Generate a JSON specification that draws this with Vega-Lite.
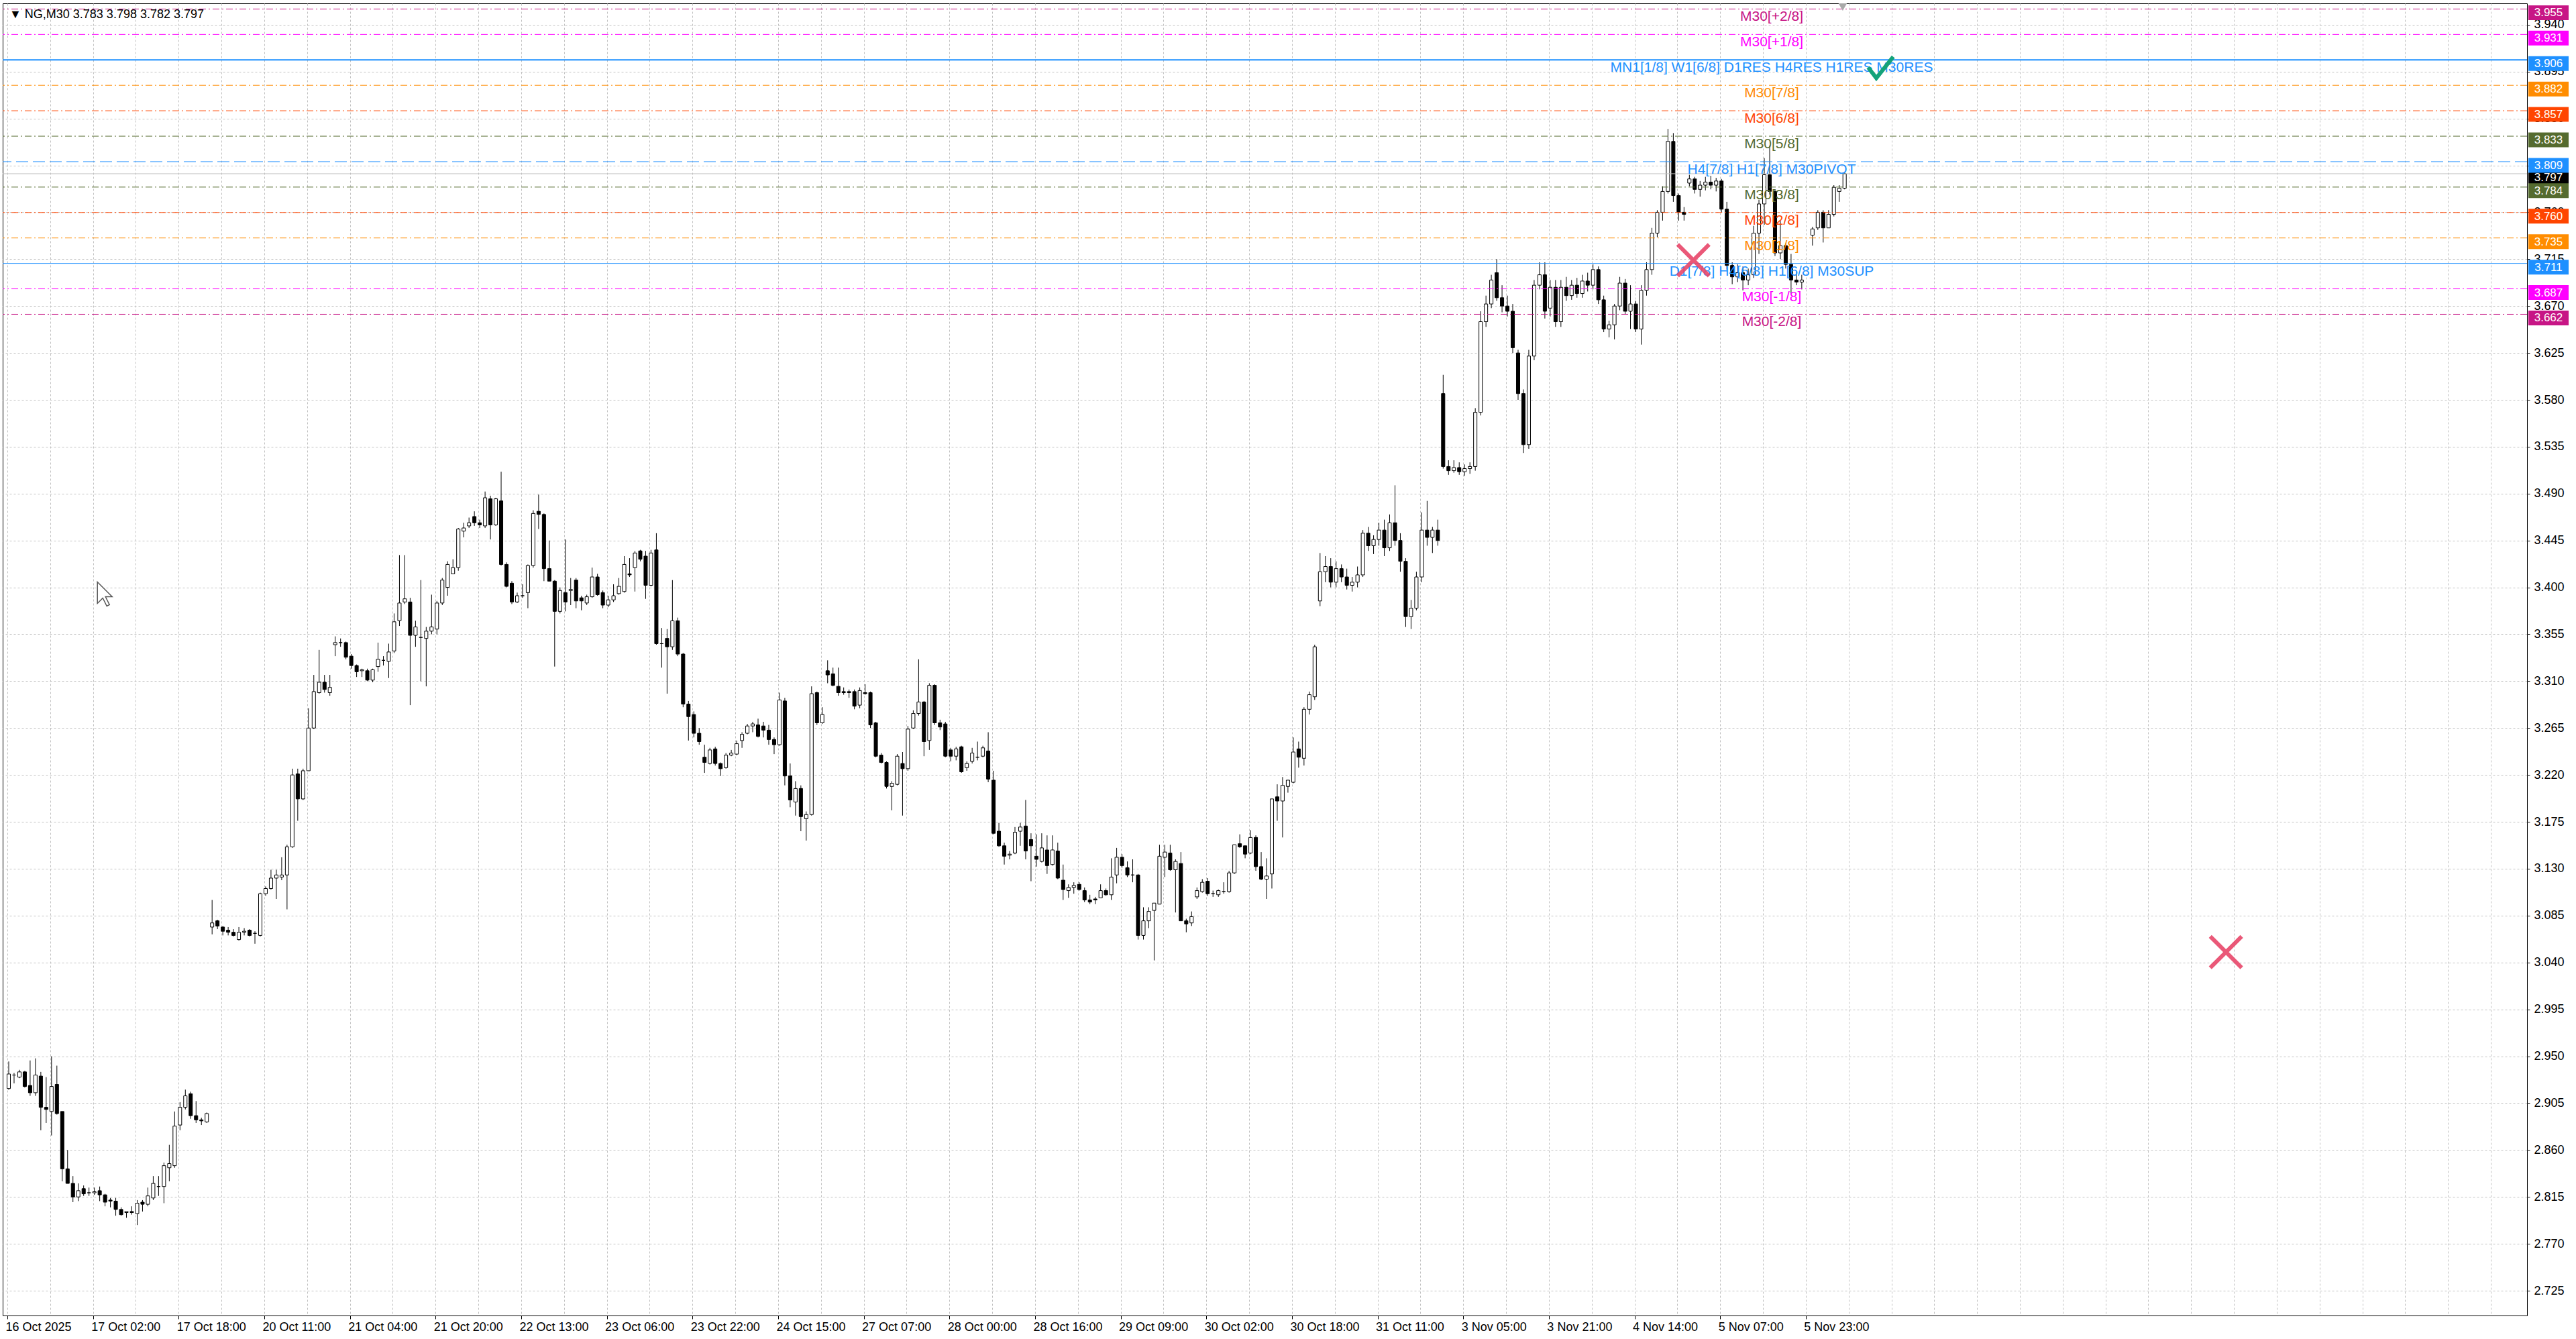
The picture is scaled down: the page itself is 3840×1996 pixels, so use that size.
{
"$schema": "https://vega.github.io/schema/vega-lite/v6.json",
"width": 3763, "height": 1956,
"padding": {"left": 3, "top": 4, "right": 0, "bottom": 0},
"autosize": {"type": "pad"},
"background": "#ffffff",
"config": {"view": {"stroke": "#000000", "strokeWidth": 1}, "font": "Liberation Sans"},
"resolve": {"axis": {"x": "independent", "y": "independent"}},
"datasets": {
"candles": [
{"i":0,"o":2.919,"h":2.945,"l":2.918,"c":2.933},{"i":2,"o":2.932,"h":2.934,"l":2.924,"c":2.932},{"i":4,"o":2.930,"h":2.937,"l":2.929,"c":2.935},{"i":6,"o":2.935,"h":2.936,"l":2.920,"c":2.921},{"i":8,"o":2.922,"h":2.946,"l":2.912,"c":2.915},{"i":10,"o":2.915,"h":2.948,"l":2.912,"c":2.932},{"i":12,"o":2.931,"h":2.935,"l":2.879,"c":2.901},{"i":14,"o":2.901,"h":2.930,"l":2.886,"c":2.899},{"i":16,"o":2.897,"h":2.950,"l":2.874,"c":2.921},{"i":18,"o":2.923,"h":2.941,"l":2.894,"c":2.895},
{"i":20,"o":2.897,"h":2.897,"l":2.830,"c":2.842},{"i":22,"o":2.842,"h":2.860,"l":2.828,"c":2.828},{"i":24,"o":2.828,"h":2.835,"l":2.810,"c":2.815},{"i":26,"o":2.815,"h":2.828,"l":2.811,"c":2.821},{"i":28,"o":2.823,"h":2.826,"l":2.816,"c":2.818},{"i":30,"o":2.819,"h":2.824,"l":2.816,"c":2.819},{"i":32,"o":2.819,"h":2.824,"l":2.817,"c":2.820},{"i":34,"o":2.821,"h":2.825,"l":2.811,"c":2.817},{"i":36,"o":2.817,"h":2.818,"l":2.806,"c":2.810},{"i":38,"o":2.812,"h":2.814,"l":2.805,"c":2.811},
{"i":40,"o":2.811,"h":2.814,"l":2.797,"c":2.803},{"i":42,"o":2.803,"h":2.805,"l":2.797,"c":2.798},{"i":44,"o":2.800,"h":2.801,"l":2.795,"c":2.801},{"i":46,"o":2.801,"h":2.806,"l":2.798,"c":2.800},{"i":48,"o":2.799,"h":2.812,"l":2.788,"c":2.809},{"i":50,"o":2.810,"h":2.812,"l":2.801,"c":2.808},{"i":52,"o":2.808,"h":2.824,"l":2.806,"c":2.816},{"i":54,"o":2.814,"h":2.835,"l":2.812,"c":2.828},{"i":56,"o":2.825,"h":2.835,"l":2.816,"c":2.825},{"i":58,"o":2.825,"h":2.848,"l":2.809,"c":2.845},
{"i":60,"o":2.843,"h":2.865,"l":2.830,"c":2.847},{"i":62,"o":2.845,"h":2.897,"l":2.843,"c":2.883},{"i":64,"o":2.884,"h":2.906,"l":2.879,"c":2.901},{"i":66,"o":2.901,"h":2.918,"l":2.899,"c":2.912},{"i":68,"o":2.914,"h":2.916,"l":2.890,"c":2.893},{"i":70,"o":2.893,"h":2.907,"l":2.886,"c":2.889},{"i":72,"o":2.889,"h":2.891,"l":2.884,"c":2.888},{"i":74,"o":2.887,"h":2.896,"l":2.886,"c":2.895},
{"i":76,"o":3.074,"h":3.100,"l":3.067,"c":3.078},{"i":78,"o":3.080,"h":3.081,"l":3.072,"c":3.075},{"i":80,"o":3.074,"h":3.075,"l":3.066,"c":3.070},{"i":82,"o":3.071,"h":3.074,"l":3.066,"c":3.069},{"i":84,"o":3.069,"h":3.072,"l":3.065,"c":3.066},{"i":86,"o":3.062,"h":3.074,"l":3.061,"c":3.069},{"i":88,"o":3.069,"h":3.073,"l":3.066,"c":3.070},{"i":90,"o":3.071,"h":3.072,"l":3.065,"c":3.066},{"i":92,"o":3.068,"h":3.070,"l":3.058,"c":3.068},{"i":94,"o":3.066,"h":3.107,"l":3.065,"c":3.106},
{"i":96,"o":3.106,"h":3.113,"l":3.104,"c":3.111},{"i":98,"o":3.111,"h":3.129,"l":3.110,"c":3.121},{"i":100,"o":3.121,"h":3.129,"l":3.101,"c":3.124},{"i":102,"o":3.122,"h":3.141,"l":3.119,"c":3.124},{"i":104,"o":3.124,"h":3.153,"l":3.091,"c":3.151},{"i":106,"o":3.151,"h":3.226,"l":3.150,"c":3.220},{"i":108,"o":3.221,"h":3.226,"l":3.176,"c":3.197},{"i":110,"o":3.197,"h":3.226,"l":3.196,"c":3.224},{"i":112,"o":3.224,"h":3.284,"l":3.224,"c":3.265},{"i":114,"o":3.265,"h":3.316,"l":3.264,"c":3.300},
{"i":116,"o":3.299,"h":3.340,"l":3.298,"c":3.309},{"i":118,"o":3.309,"h":3.316,"l":3.299,"c":3.302},{"i":120,"o":3.299,"h":3.316,"l":3.296,"c":3.304},{"i":122,"o":3.345,"h":3.353,"l":3.334,"c":3.347},{"i":124,"o":3.347,"h":3.351,"l":3.343,"c":3.347},{"i":126,"o":3.347,"h":3.348,"l":3.331,"c":3.333},{"i":128,"o":3.334,"h":3.336,"l":3.322,"c":3.325},{"i":130,"o":3.325,"h":3.326,"l":3.314,"c":3.319},{"i":132,"o":3.320,"h":3.322,"l":3.314,"c":3.321},{"i":134,"o":3.320,"h":3.322,"l":3.310,"c":3.311},
{"i":136,"o":3.311,"h":3.322,"l":3.309,"c":3.321},{"i":138,"o":3.324,"h":3.347,"l":3.319,"c":3.331},{"i":140,"o":3.330,"h":3.334,"l":3.325,"c":3.330},{"i":142,"o":3.329,"h":3.346,"l":3.313,"c":3.338},{"i":144,"o":3.339,"h":3.375,"l":3.337,"c":3.367},{"i":146,"o":3.368,"h":3.431,"l":3.363,"c":3.385},{"i":148,"o":3.386,"h":3.431,"l":3.384,"c":3.389},{"i":150,"o":3.386,"h":3.390,"l":3.287,"c":3.354},{"i":152,"o":3.354,"h":3.368,"l":3.343,"c":3.362},{"i":154,"o":3.352,"h":3.407,"l":3.310,"c":3.352},
{"i":156,"o":3.351,"h":3.362,"l":3.305,"c":3.358},{"i":158,"o":3.358,"h":3.393,"l":3.355,"c":3.362},{"i":160,"o":3.360,"h":3.387,"l":3.355,"c":3.385},{"i":162,"o":3.385,"h":3.409,"l":3.383,"c":3.407},{"i":164,"o":3.400,"h":3.425,"l":3.392,"c":3.422},{"i":166,"o":3.413,"h":3.427,"l":3.413,"c":3.419},{"i":168,"o":3.419,"h":3.457,"l":3.416,"c":3.456},{"i":170,"o":3.454,"h":3.462,"l":3.448,"c":3.457},{"i":172,"o":3.459,"h":3.467,"l":3.457,"c":3.462},{"i":174,"o":3.468,"h":3.473,"l":3.459,"c":3.462},
{"i":176,"o":3.462,"h":3.465,"l":3.457,"c":3.460},{"i":178,"o":3.459,"h":3.492,"l":3.457,"c":3.486},{"i":180,"o":3.485,"h":3.488,"l":3.446,"c":3.460},{"i":182,"o":3.460,"h":3.486,"l":3.459,"c":3.485},{"i":184,"o":3.483,"h":3.511,"l":3.421,"c":3.422},{"i":186,"o":3.422,"h":3.424,"l":3.400,"c":3.401},{"i":188,"o":3.404,"h":3.406,"l":3.384,"c":3.386},{"i":190,"o":3.386,"h":3.395,"l":3.385,"c":3.392},{"i":192,"o":3.392,"h":3.403,"l":3.390,"c":3.392},{"i":194,"o":3.395,"h":3.422,"l":3.380,"c":3.421},
{"i":196,"o":3.421,"h":3.474,"l":3.419,"c":3.471},{"i":198,"o":3.473,"h":3.489,"l":3.456,"c":3.470},{"i":200,"o":3.470,"h":3.471,"l":3.406,"c":3.418},{"i":202,"o":3.418,"h":3.445,"l":3.406,"c":3.406},{"i":204,"o":3.406,"h":3.407,"l":3.324,"c":3.377},{"i":206,"o":3.377,"h":3.400,"l":3.375,"c":3.397},{"i":208,"o":3.395,"h":3.446,"l":3.377,"c":3.386},{"i":210,"o":3.397,"h":3.409,"l":3.383,"c":3.398},{"i":212,"o":3.407,"h":3.409,"l":3.380,"c":3.387},{"i":214,"o":3.390,"h":3.392,"l":3.378,"c":3.387},
{"i":216,"o":3.385,"h":3.393,"l":3.383,"c":3.391},{"i":218,"o":3.391,"h":3.419,"l":3.390,"c":3.410},{"i":220,"o":3.410,"h":3.413,"l":3.392,"c":3.393},{"i":222,"o":3.395,"h":3.397,"l":3.380,"c":3.383},{"i":224,"o":3.383,"h":3.392,"l":3.381,"c":3.388},{"i":226,"o":3.388,"h":3.403,"l":3.386,"c":3.392},{"i":228,"o":3.394,"h":3.409,"l":3.393,"c":3.401},{"i":230,"o":3.396,"h":3.430,"l":3.395,"c":3.422},{"i":232,"o":3.413,"h":3.428,"l":3.410,"c":3.412},{"i":234,"o":3.419,"h":3.435,"l":3.396,"c":3.433},
{"i":236,"o":3.435,"h":3.436,"l":3.425,"c":3.427},{"i":238,"o":3.430,"h":3.435,"l":3.389,"c":3.402},{"i":240,"o":3.402,"h":3.436,"l":3.401,"c":3.433},{"i":242,"o":3.436,"h":3.452,"l":3.345,"c":3.346},{"i":244,"o":3.346,"h":3.361,"l":3.323,"c":3.346},{"i":246,"o":3.351,"h":3.360,"l":3.298,"c":3.343},{"i":248,"o":3.343,"h":3.407,"l":3.340,"c":3.368},{"i":250,"o":3.368,"h":3.371,"l":3.334,"c":3.336},{"i":252,"o":3.336,"h":3.337,"l":3.285,"c":3.288},{"i":254,"o":3.288,"h":3.291,"l":3.253,"c":3.276},
{"i":256,"o":3.278,"h":3.281,"l":3.256,"c":3.260},{"i":258,"o":3.260,"h":3.265,"l":3.249,"c":3.252},{"i":260,"o":3.237,"h":3.249,"l":3.222,"c":3.232},{"i":262,"o":3.231,"h":3.246,"l":3.230,"c":3.244},{"i":264,"o":3.245,"h":3.247,"l":3.229,"c":3.231},{"i":266,"o":3.231,"h":3.232,"l":3.219,"c":3.226},{"i":268,"o":3.227,"h":3.241,"l":3.226,"c":3.239},{"i":270,"o":3.239,"h":3.244,"l":3.238,"c":3.241},{"i":272,"o":3.240,"h":3.253,"l":3.239,"c":3.250},{"i":274,"o":3.253,"h":3.261,"l":3.246,"c":3.259},
{"i":276,"o":3.260,"h":3.269,"l":3.259,"c":3.267},{"i":278,"o":3.267,"h":3.271,"l":3.261,"c":3.269},{"i":280,"o":3.268,"h":3.274,"l":3.256,"c":3.257},{"i":282,"o":3.267,"h":3.271,"l":3.256,"c":3.263},{"i":284,"o":3.263,"h":3.268,"l":3.249,"c":3.254},{"i":286,"o":3.254,"h":3.256,"l":3.240,"c":3.249},{"i":288,"o":3.249,"h":3.299,"l":3.248,"c":3.292},{"i":290,"o":3.291,"h":3.294,"l":3.210,"c":3.219},{"i":292,"o":3.219,"h":3.231,"l":3.189,"c":3.196},{"i":294,"o":3.194,"h":3.214,"l":3.181,"c":3.207},
{"i":296,"o":3.207,"h":3.210,"l":3.166,"c":3.180},{"i":298,"o":3.178,"h":3.185,"l":3.157,"c":3.182},{"i":300,"o":3.182,"h":3.305,"l":3.181,"c":3.298},{"i":302,"o":3.299,"h":3.300,"l":3.268,"c":3.270},{"i":304,"o":3.270,"h":3.285,"l":3.269,"c":3.278},{"i":306,"o":3.320,"h":3.330,"l":3.308,"c":3.316},{"i":308,"o":3.317,"h":3.323,"l":3.305,"c":3.306},{"i":310,"o":3.305,"h":3.323,"l":3.296,"c":3.299},{"i":312,"o":3.300,"h":3.304,"l":3.297,"c":3.299},{"i":314,"o":3.300,"h":3.302,"l":3.294,"c":3.299},
{"i":316,"o":3.300,"h":3.302,"l":3.283,"c":3.286},{"i":318,"o":3.287,"h":3.304,"l":3.284,"c":3.301},{"i":320,"o":3.299,"h":3.307,"l":3.297,"c":3.298},{"i":322,"o":3.299,"h":3.300,"l":3.265,"c":3.268},{"i":324,"o":3.270,"h":3.271,"l":3.237,"c":3.238},{"i":326,"o":3.239,"h":3.241,"l":3.231,"c":3.232},{"i":328,"o":3.232,"h":3.233,"l":3.207,"c":3.209},{"i":330,"o":3.209,"h":3.214,"l":3.186,"c":3.212},{"i":332,"o":3.211,"h":3.240,"l":3.210,"c":3.238},{"i":334,"o":3.231,"h":3.242,"l":3.181,"c":3.226},
{"i":336,"o":3.226,"h":3.267,"l":3.224,"c":3.264},{"i":338,"o":3.265,"h":3.282,"l":3.264,"c":3.279},{"i":340,"o":3.279,"h":3.331,"l":3.277,"c":3.290},{"i":342,"o":3.290,"h":3.291,"l":3.238,"c":3.252},{"i":344,"o":3.253,"h":3.308,"l":3.244,"c":3.306},{"i":346,"o":3.306,"h":3.307,"l":3.268,"c":3.270},{"i":348,"o":3.270,"h":3.273,"l":3.263,"c":3.266},{"i":350,"o":3.269,"h":3.271,"l":3.237,"c":3.238},{"i":352,"o":3.244,"h":3.246,"l":3.233,"c":3.238},{"i":354,"o":3.238,"h":3.247,"l":3.234,"c":3.245},
{"i":356,"o":3.247,"h":3.248,"l":3.222,"c":3.223},{"i":358,"o":3.227,"h":3.233,"l":3.224,"c":3.231},{"i":360,"o":3.233,"h":3.246,"l":3.231,"c":3.241},{"i":362,"o":3.237,"h":3.252,"l":3.234,"c":3.237},{"i":364,"o":3.238,"h":3.248,"l":3.237,"c":3.246},{"i":366,"o":3.243,"h":3.261,"l":3.213,"c":3.216},{"i":368,"o":3.215,"h":3.224,"l":3.163,"c":3.164},{"i":370,"o":3.166,"h":3.174,"l":3.151,"c":3.152},{"i":372,"o":3.152,"h":3.155,"l":3.134,"c":3.142},{"i":374,"o":3.143,"h":3.147,"l":3.139,"c":3.144},
{"i":376,"o":3.145,"h":3.170,"l":3.144,"c":3.165},{"i":378,"o":3.166,"h":3.174,"l":3.152,"c":3.170},{"i":380,"o":3.171,"h":3.196,"l":3.139,"c":3.147},{"i":382,"o":3.158,"h":3.164,"l":3.118,"c":3.152},{"i":384,"o":3.142,"h":3.163,"l":3.132,"c":3.139},{"i":386,"o":3.137,"h":3.164,"l":3.136,"c":3.150},{"i":388,"o":3.148,"h":3.162,"l":3.125,"c":3.133},{"i":390,"o":3.134,"h":3.162,"l":3.133,"c":3.148},{"i":392,"o":3.147,"h":3.155,"l":3.120,"c":3.121},{"i":394,"o":3.119,"h":3.134,"l":3.100,"c":3.110},
{"i":396,"o":3.109,"h":3.115,"l":3.102,"c":3.112},{"i":398,"o":3.112,"h":3.117,"l":3.106,"c":3.114},{"i":400,"o":3.115,"h":3.117,"l":3.109,"c":3.110},{"i":402,"o":3.109,"h":3.112,"l":3.098,"c":3.100},{"i":404,"o":3.100,"h":3.105,"l":3.096,"c":3.098},{"i":406,"o":3.101,"h":3.103,"l":3.096,"c":3.100},{"i":408,"o":3.102,"h":3.115,"l":3.102,"c":3.109},{"i":410,"o":3.109,"h":3.111,"l":3.104,"c":3.105},{"i":412,"o":3.105,"h":3.140,"l":3.100,"c":3.122},{"i":414,"o":3.124,"h":3.150,"l":3.116,"c":3.141},
{"i":416,"o":3.141,"h":3.144,"l":3.131,"c":3.133},{"i":418,"o":3.131,"h":3.137,"l":3.122,"c":3.124},{"i":420,"o":3.124,"h":3.139,"l":3.117,"c":3.124},{"i":422,"o":3.124,"h":3.125,"l":3.062,"c":3.066},{"i":424,"o":3.066,"h":3.093,"l":3.062,"c":3.080},{"i":426,"o":3.080,"h":3.093,"l":3.073,"c":3.089},{"i":428,"o":3.090,"h":3.093,"l":3.042,"c":3.097},{"i":430,"o":3.096,"h":3.153,"l":3.096,"c":3.142},{"i":432,"o":3.141,"h":3.153,"l":3.122,"c":3.146},{"i":434,"o":3.145,"h":3.153,"l":3.128,"c":3.129},
{"i":436,"o":3.129,"h":3.139,"l":3.088,"c":3.137},{"i":438,"o":3.135,"h":3.146,"l":3.080,"c":3.080},{"i":440,"o":3.080,"h":3.082,"l":3.069,"c":3.077},{"i":442,"o":3.078,"h":3.089,"l":3.075,"c":3.084},{"i":444,"o":3.103,"h":3.112,"l":3.101,"c":3.109},{"i":446,"o":3.108,"h":3.120,"l":3.107,"c":3.117},{"i":448,"o":3.118,"h":3.121,"l":3.104,"c":3.106},{"i":450,"o":3.106,"h":3.109,"l":3.103,"c":3.106},{"i":452,"o":3.105,"h":3.110,"l":3.103,"c":3.109},{"i":454,"o":3.108,"h":3.117,"l":3.106,"c":3.108},
{"i":456,"o":3.108,"h":3.128,"l":3.107,"c":3.126},{"i":458,"o":3.126,"h":3.153,"l":3.125,"c":3.153},{"i":460,"o":3.154,"h":3.163,"l":3.150,"c":3.151},{"i":462,"o":3.152,"h":3.152,"l":3.140,"c":3.144},{"i":464,"o":3.145,"h":3.167,"l":3.144,"c":3.160},{"i":466,"o":3.160,"h":3.162,"l":3.128,"c":3.132},{"i":468,"o":3.132,"h":3.146,"l":3.119,"c":3.120},{"i":470,"o":3.120,"h":3.140,"l":3.101,"c":3.123},{"i":472,"o":3.125,"h":3.160,"l":3.111,"c":3.197},{"i":474,"o":3.199,"h":3.211,"l":3.176,"c":3.195},
{"i":476,"o":3.195,"h":3.218,"l":3.160,"c":3.210},{"i":478,"o":3.209,"h":3.215,"l":3.203,"c":3.215},{"i":480,"o":3.213,"h":3.256,"l":3.212,"c":3.242},{"i":482,"o":3.245,"h":3.252,"l":3.227,"c":3.237},{"i":484,"o":3.236,"h":3.285,"l":3.229,"c":3.283},{"i":486,"o":3.283,"h":3.300,"l":3.278,"c":3.297},{"i":488,"o":3.295,"h":3.345,"l":3.292,"c":3.343},{"i":490,"o":3.387,"h":3.433,"l":3.382,"c":3.415},{"i":492,"o":3.415,"h":3.430,"l":3.405,"c":3.420},{"i":494,"o":3.420,"h":3.428,"l":3.400,"c":3.405},
{"i":496,"o":3.405,"h":3.425,"l":3.400,"c":3.418},{"i":498,"o":3.418,"h":3.422,"l":3.405,"c":3.410},{"i":500,"o":3.410,"h":3.418,"l":3.398,"c":3.402},{"i":502,"o":3.402,"h":3.410,"l":3.396,"c":3.405},{"i":504,"o":3.405,"h":3.420,"l":3.400,"c":3.412},{"i":506,"o":3.412,"h":3.455,"l":3.410,"c":3.452},{"i":508,"o":3.452,"h":3.458,"l":3.435,"c":3.440},{"i":510,"o":3.440,"h":3.450,"l":3.432,"c":3.446},{"i":512,"o":3.446,"h":3.462,"l":3.440,"c":3.455},{"i":514,"o":3.455,"h":3.465,"l":3.430,"c":3.438},
{"i":516,"o":3.438,"h":3.470,"l":3.435,"c":3.462},{"i":518,"o":3.462,"h":3.498,"l":3.440,"c":3.445},{"i":520,"o":3.445,"h":3.452,"l":3.415,"c":3.425},{"i":522,"o":3.425,"h":3.428,"l":3.362,"c":3.372},{"i":524,"o":3.372,"h":3.388,"l":3.360,"c":3.380},{"i":526,"o":3.380,"h":3.415,"l":3.378,"c":3.410},{"i":528,"o":3.410,"h":3.472,"l":3.405,"c":3.455},{"i":530,"o":3.455,"h":3.483,"l":3.440,"c":3.448},{"i":532,"o":3.448,"h":3.458,"l":3.433,"c":3.455},{"i":534,"o":3.455,"h":3.465,"l":3.440,"c":3.445},
{"i":536,"o":3.586,"h":3.604,"l":3.514,"c":3.516},{"i":538,"o":3.516,"h":3.522,"l":3.508,"c":3.512},{"i":540,"o":3.512,"h":3.522,"l":3.510,"c":3.515},{"i":542,"o":3.515,"h":3.520,"l":3.508,"c":3.511},{"i":544,"o":3.511,"h":3.518,"l":3.507,"c":3.514},{"i":546,"o":3.514,"h":3.520,"l":3.509,"c":3.516},{"i":548,"o":3.516,"h":3.572,"l":3.512,"c":3.568},{"i":550,"o":3.568,"h":3.665,"l":3.565,"c":3.655},{"i":552,"o":3.655,"h":3.680,"l":3.650,"c":3.672},{"i":554,"o":3.672,"h":3.700,"l":3.668,"c":3.695},
{"i":556,"o":3.702,"h":3.715,"l":3.675,"c":3.678},{"i":558,"o":3.678,"h":3.690,"l":3.664,"c":3.670},{"i":560,"o":3.670,"h":3.680,"l":3.660,"c":3.665},{"i":562,"o":3.665,"h":3.672,"l":3.625,"c":3.630},{"i":564,"o":3.625,"h":3.628,"l":3.580,"c":3.586},{"i":566,"o":3.586,"h":3.590,"l":3.529,"c":3.537},{"i":568,"o":3.537,"h":3.628,"l":3.533,"c":3.622},{"i":570,"o":3.622,"h":3.695,"l":3.618,"c":3.690},{"i":572,"o":3.690,"h":3.712,"l":3.686,"c":3.700},{"i":574,"o":3.700,"h":3.712,"l":3.658,"c":3.665},
{"i":576,"o":3.668,"h":3.695,"l":3.660,"c":3.688},{"i":578,"o":3.688,"h":3.695,"l":3.650,"c":3.655},{"i":580,"o":3.655,"h":3.695,"l":3.650,"c":3.688},{"i":582,"o":3.688,"h":3.698,"l":3.675,"c":3.680},{"i":584,"o":3.680,"h":3.695,"l":3.676,"c":3.690},{"i":586,"o":3.690,"h":3.697,"l":3.678,"c":3.682},{"i":588,"o":3.682,"h":3.700,"l":3.678,"c":3.694},{"i":590,"o":3.694,"h":3.702,"l":3.684,"c":3.690},{"i":592,"o":3.690,"h":3.710,"l":3.686,"c":3.705},{"i":594,"o":3.705,"h":3.708,"l":3.672,"c":3.676},
{"i":596,"o":3.676,"h":3.680,"l":3.645,"c":3.648},{"i":598,"o":3.648,"h":3.656,"l":3.640,"c":3.652},{"i":600,"o":3.652,"h":3.672,"l":3.638,"c":3.670},{"i":602,"o":3.670,"h":3.698,"l":3.666,"c":3.692},{"i":604,"o":3.692,"h":3.696,"l":3.662,"c":3.665},{"i":606,"o":3.665,"h":3.690,"l":3.648,"c":3.672},{"i":608,"o":3.672,"h":3.675,"l":3.645,"c":3.648},{"i":610,"o":3.648,"h":3.690,"l":3.633,"c":3.685},{"i":612,"o":3.685,"h":3.712,"l":3.680,"c":3.705},{"i":614,"o":3.705,"h":3.745,"l":3.700,"c":3.740},
{"i":616,"o":3.740,"h":3.762,"l":3.736,"c":3.760},{"i":618,"o":3.760,"h":3.785,"l":3.752,"c":3.780},{"i":620,"o":3.780,"h":3.840,"l":3.778,"c":3.828},{"i":622,"o":3.828,"h":3.836,"l":3.770,"c":3.776},{"i":624,"o":3.776,"h":3.778,"l":3.752,"c":3.760},{"i":626,"o":3.760,"h":3.765,"l":3.752,"c":3.758},{"i":628,"o":3.788,"h":3.796,"l":3.785,"c":3.792},{"i":630,"o":3.792,"h":3.794,"l":3.778,"c":3.782},{"i":632,"o":3.782,"h":3.790,"l":3.775,"c":3.786},{"i":634,"o":3.786,"h":3.794,"l":3.781,"c":3.789},
{"i":636,"o":3.789,"h":3.795,"l":3.782,"c":3.786},{"i":638,"o":3.786,"h":3.793,"l":3.780,"c":3.790},{"i":640,"o":3.790,"h":3.792,"l":3.760,"c":3.763},{"i":642,"o":3.763,"h":3.770,"l":3.705,"c":3.709},{"i":644,"o":3.709,"h":3.712,"l":3.691,"c":3.698},{"i":646,"o":3.698,"h":3.710,"l":3.693,"c":3.702},{"i":648,"o":3.702,"h":3.708,"l":3.685,"c":3.695},{"i":650,"o":3.695,"h":3.706,"l":3.690,"c":3.700},{"i":652,"o":3.700,"h":3.747,"l":3.697,"c":3.740},{"i":654,"o":3.740,"h":3.772,"l":3.720,"c":3.768},
{"i":656,"o":3.768,"h":3.812,"l":3.748,"c":3.796},{"i":658,"o":3.796,"h":3.824,"l":3.777,"c":3.780},{"i":660,"o":3.780,"h":3.782,"l":3.718,"c":3.721},{"i":662,"o":3.721,"h":3.752,"l":3.715,"c":3.728},{"i":664,"o":3.728,"h":3.730,"l":3.706,"c":3.710},{"i":666,"o":3.710,"h":3.720,"l":3.682,"c":3.695},{"i":668,"o":3.695,"h":3.703,"l":3.690,"c":3.693},{"i":670,"o":3.693,"h":3.700,"l":3.686,"c":3.695},{"i":674,"o":3.738,"h":3.746,"l":3.728,"c":3.744},{"i":676,"o":3.745,"h":3.762,"l":3.743,"c":3.760},
{"i":678,"o":3.760,"h":3.762,"l":3.731,"c":3.745},{"i":680,"o":3.745,"h":3.762,"l":3.745,"c":3.758},{"i":682,"o":3.758,"h":3.786,"l":3.756,"c":3.784},{"i":684,"o":3.780,"h":3.786,"l":3.770,"c":3.783},{"i":686,"o":3.783,"h":3.798,"l":3.782,"c":3.797}
],
"levels": [
{"v":3.95508,"kind":"p2","label":"M30[+2/8]"},
{"v":3.93066,"kind":"p1","label":"M30[+1/8]"},
{"v":3.90625,"kind":"res","label":"MN1[1/8] W1[6/8] D1RES H4RES H1RES M30RES"},
{"v":3.88184,"kind":"m7","label":"M30[7/8]"},
{"v":3.85742,"kind":"m6","label":"M30[6/8]"},
{"v":3.83301,"kind":"m5","label":"M30[5/8]"},
{"v":3.80859,"kind":"piv","label":"H4[7/8] H1[7/8] M30PIVOT"},
{"v":3.78418,"kind":"m3","label":"M30[3/8]"},
{"v":3.75977,"kind":"m2","label":"M30[2/8]"},
{"v":3.73535,"kind":"m1","label":"M30[1/8]"},
{"v":3.71094,"kind":"sup","label":"D1[7/8] H4[6/8] H1[6/8] M30SUP"},
{"v":3.68652,"kind":"n1","label":"M30[-1/8]"},
{"v":3.66211,"kind":"n2","label":"M30[-2/8]"}
],
"price": [{"v":3.797}],
"header": [{"i":0.75,"v":3.9463,"text":"▼  NG,M30  3.783 3.798 3.782 3.797"}],
"crosses": [{"i":630,"v":3.714},{"i":829,"v":3.050}],
"checks": [{"i":700,"v":3.899}],
"shift": [{"i":685.8,"v":3.957}],
"cursor": [{"i":36.5,"v":3.393}]
},
"layer": [
{
"data": {"name": "candles"},
"mark": {"type": "rule", "color": "#000000", "strokeWidth": 1, "xOffset": 2},
"encoding": {
"x": {"field": "i", "type": "quantitative", "scale": {"domain": [-0.5, 940.25], "nice": false, "zero": false},
"axis": {"title": null, "orient": "bottom", "domain": false, "grid": true, "gridColor": "#C0C0C0", "gridDash": [3,3], "gridWidth": 1,
"values": [0,16,32,48,64,80,96,112,128,144,160,176,192,208,224,240,256,272,288,304,320,336,352,368,384,400,416,432,448,464,480,496,512,528,544,560,576,592,608,624,640,656,672,688,704,720,736,752,768,784,800,816,832,848,864,880,896,912,928],
"labelExpr": "(datum.value % 32 === 0 && datum.value <= 672) ? ['16 Oct 2025','17 Oct 02:00','17 Oct 18:00','20 Oct 11:00','21 Oct 04:00','21 Oct 20:00','22 Oct 13:00','23 Oct 06:00','23 Oct 22:00','24 Oct 15:00','27 Oct 07:00','28 Oct 00:00','28 Oct 16:00','29 Oct 09:00','30 Oct 02:00','30 Oct 18:00','31 Oct 11:00','3 Nov 05:00','3 Nov 21:00','4 Nov 14:00','5 Nov 07:00','5 Nov 23:00'][datum.value / 32] : ''",
"labelAlign": "left", "labelBaseline": "top", "labelPadding": 3, "labelOffset": -3, "labelFont": "Liberation Sans", "labelFontSize": 18, "labelColor": "#000000",
"labelOverlap": false, "labelFlush": false, "labelBound": false,
"tickColor": "#000000", "tickSize": 5, "tickWidth": 1,
"tickOpacity": {"condition": {"test": "datum.value % 32 !== 0 || datum.value > 672", "value": 0}, "value": 1}}},
"y": {"field": "l", "type": "quantitative", "scale": {"domain": [2.7012, 3.9605], "nice": false, "zero": false},
"axis": {"title": null, "orient": "right", "domain": false, "grid": true, "gridColor": "#C0C0C0", "gridDash": [3,3], "gridWidth": 1,
"values": [2.725,2.77,2.815,2.86,2.905,2.95,2.995,3.04,3.085,3.13,3.175,3.22,3.265,3.31,3.355,3.4,3.445,3.49,3.535,3.58,3.625,3.67,3.715,3.76,3.805,3.85,3.895,3.94],
"format": ".3f", "labelAlign": "left", "labelBaseline": "middle", "labelPadding": 6, "labelFont": "Liberation Sans", "labelFontSize": 18, "labelColor": "#000000",
"labelOverlap": false, "labelFlush": false, "labelBound": false,
"tickColor": "#000000", "tickSize": 4, "tickWidth": 1}},
"y2": {"field": "h"}
}
},
{
"data": {"name": "candles"},
"mark": {"type": "bar", "orient": "vertical", "width": 5, "strokeWidth": 1, "xOffset": 2},
"encoding": {
"x": {"field": "i", "type": "quantitative", "scale": {"domain": [-0.5, 940.25], "nice": false, "zero": false}, "axis": null},
"y": {"field": "o", "type": "quantitative", "scale": {"domain": [2.7012, 3.9605], "nice": false, "zero": false}, "axis": null},
"y2": {"field": "c"},
"fill": {"condition": {"test": "datum.c >= datum.o", "value": "#ffffff"}, "value": "#000000"},
"stroke": {"value": "#000000"}
}
},
{
"data": {"name": "levels"},
"mark": {"type": "rule"},
"encoding": {
"y": {"field": "v", "type": "quantitative", "scale": {"domain": [2.7012, 3.9605], "nice": false, "zero": false}, "axis": null},
"color": {"field": "kind", "type": "nominal", "legend": null,
"scale": {"domain": ["p2","p1","res","m7","m6","m5","piv","m3","m2","m1","sup","n1","n2"],
"range": ["#C71585","#FF00FF","#1E90FF","#FF8C00","#FF4500","#556B2F","#1E90FF","#556B2F","#FF4500","#FF8C00","#1E90FF","#FF00FF","#C71585"]}},
"strokeDash": {"condition": [{"test": "datum.kind === 'res' || datum.kind === 'sup'", "value": [1,0]}, {"test": "datum.kind === 'piv'", "value": [18,7]}], "value": [10,4,2,4]},
"strokeWidth": {"condition": {"test": "datum.kind === 'res'", "value": 2}, "value": 1}
}
},
{
"data": {"name": "price"},
"mark": {"type": "rule", "color": "#C0C0C0", "strokeWidth": 1},
"encoding": {
"y": {"field": "v", "type": "quantitative", "scale": {"domain": [2.7012, 3.9605], "nice": false, "zero": false}, "axis": null}
}
},
{
"data": {"name": "header"},
"mark": {"type": "text", "font": "Liberation Sans", "fontSize": 18, "align": "left", "baseline": "alphabetic", "color": "#000000"},
"encoding": {
"x": {"field": "i", "type": "quantitative", "scale": {"domain": [-0.5, 940.25], "nice": false, "zero": false}, "axis": null},
"y": {"field": "v", "type": "quantitative", "scale": {"domain": [2.7012, 3.9605], "nice": false, "zero": false}, "axis": null},
"text": {"field": "text"}
}
},
{
"data": {"name": "levels"},
"mark": {"type": "text", "font": "Liberation Sans", "fontSize": 21, "align": "center", "baseline": "middle", "yOffset": 12},
"encoding": {
"x": {"datum": 659.25, "type": "quantitative", "scale": {"domain": [-0.5, 940.25], "nice": false, "zero": false}, "axis": null},
"y": {"field": "v", "type": "quantitative", "scale": {"domain": [2.7012, 3.9605], "nice": false, "zero": false}, "axis": null},
"text": {"field": "label"},
"color": {"field": "kind", "type": "nominal", "legend": null}
}
},
{
"data": {"name": "crosses"},
"mark": {"type": "point", "shape": "M-1,-1L1,1M-1,1L1,-1", "filled": false, "size": 2200, "stroke": "#E8476A", "strokeWidth": 6, "opacity": 0.9},
"encoding": {
"x": {"field": "i", "type": "quantitative", "scale": {"domain": [-0.5, 940.25], "nice": false, "zero": false}, "axis": null},
"y": {"field": "v", "type": "quantitative", "scale": {"domain": [2.7012, 3.9605], "nice": false, "zero": false}, "axis": null}
}
},
{
"data": {"name": "checks"},
"mark": {"type": "point", "shape": "M-1,0L-0.35,0.85L1,-0.85", "filled": false, "size": 1400, "stroke": "#14A27A", "strokeWidth": 6, "opacity": 1},
"encoding": {
"x": {"field": "i", "type": "quantitative", "scale": {"domain": [-0.5, 940.25], "nice": false, "zero": false}, "axis": null},
"y": {"field": "v", "type": "quantitative", "scale": {"domain": [2.7012, 3.9605], "nice": false, "zero": false}, "axis": null}
}
},
{
"data": {"name": "shift"},
"mark": {"type": "point", "shape": "triangle-down", "filled": true, "size": 160, "color": "#A9A9A9", "opacity": 1},
"encoding": {
"x": {"field": "i", "type": "quantitative", "scale": {"domain": [-0.5, 940.25], "nice": false, "zero": false}, "axis": null},
"y": {"field": "v", "type": "quantitative", "scale": {"domain": [2.7012, 3.9605], "nice": false, "zero": false}, "axis": null}
}
},
{
"data": {"name": "cursor"},
"mark": {"type": "point", "shape": "M-0.6,-1L-0.6,0.684L-0.179,0.263L0.137,0.895L0.347,0.789L0.032,0.158L0.558,0.158Z", "filled": true, "size": 1444, "fill": "#ffffff", "stroke": "#555555", "strokeWidth": 1.5, "opacity": 1},
"encoding": {
"x": {"field": "i", "type": "quantitative", "scale": {"domain": [-0.5, 940.25], "nice": false, "zero": false}, "axis": null},
"y": {"field": "v", "type": "quantitative", "scale": {"domain": [2.7012, 3.9605], "nice": false, "zero": false}, "axis": null}
}
},
{
"data": {"name": "price"},
"mark": {"type": "point", "shape": "M-1,-0.3667L1,-0.3667L1,0.3667L-1,0.3667Z", "filled": true, "size": 3600, "color": "#000000", "opacity": 1, "xOffset": 32, "yOffset": 5.5},
"encoding": {
"x": {"value": "width"},
"y": {"field": "v", "type": "quantitative", "scale": {"domain": [2.7012, 3.9605], "nice": false, "zero": false}, "axis": null}
}
},
{
"data": {"name": "price"},
"mark": {"type": "text", "font": "Liberation Sans", "fontSize": 17, "align": "center", "baseline": "middle", "color": "#ffffff", "xOffset": 32, "yOffset": 6},
"encoding": {
"x": {"value": "width"},
"y": {"field": "v", "type": "quantitative", "scale": {"domain": [2.7012, 3.9605], "nice": false, "zero": false}, "axis": null},
"text": {"field": "v", "format": ".3f"}
}
},
{
"data": {"name": "levels"},
"mark": {"type": "point", "shape": "M-1,-0.3667L1,-0.3667L1,0.3667L-1,0.3667Z", "filled": true, "size": 3600, "opacity": 1, "xOffset": 32, "yOffset": 5.5},
"encoding": {
"x": {"value": "width"},
"y": {"field": "v", "type": "quantitative", "scale": {"domain": [2.7012, 3.9605], "nice": false, "zero": false}, "axis": null},
"color": {"field": "kind", "type": "nominal", "legend": null}
}
},
{
"data": {"name": "levels"},
"mark": {"type": "text", "font": "Liberation Sans", "fontSize": 17, "align": "center", "baseline": "middle", "color": "#ffffff", "xOffset": 32, "yOffset": 6},
"encoding": {
"x": {"value": "width"},
"y": {"field": "v", "type": "quantitative", "scale": {"domain": [2.7012, 3.9605], "nice": false, "zero": false}, "axis": null},
"text": {"field": "v", "format": ".3f"}
}
}
]
}
